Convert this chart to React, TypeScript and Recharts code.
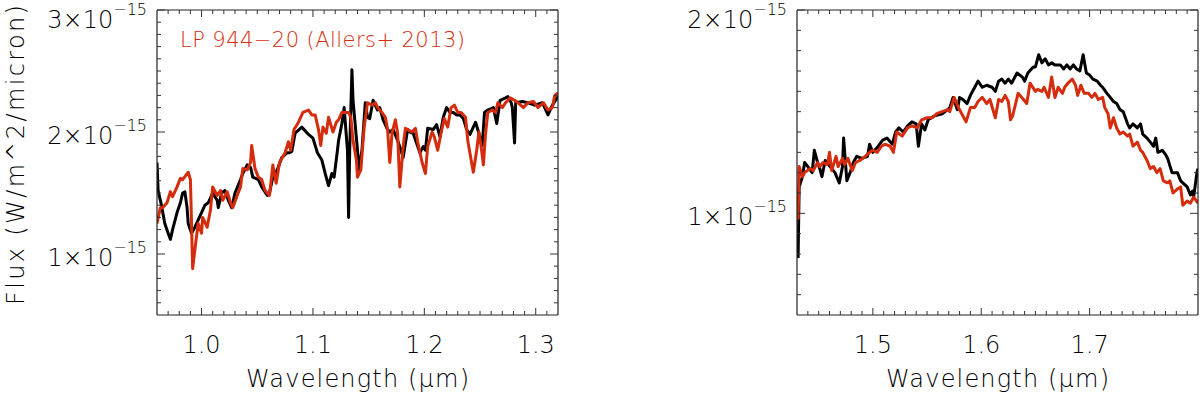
import { LineChart, Line, XAxis, YAxis } from 'recharts';

type Pt = [number, number];

// wavelength (micron), flux (units of 1e-15 W/m^2/micron)
const LEFT_BLACK: Pt[] = [
  [0.960, 1.75], [0.961, 1.52], [0.964, 1.40], [0.967, 1.25], [0.970, 1.17], [0.972, 1.12], [0.974, 1.20],
  [0.978, 1.34], [0.981, 1.42], [0.983, 1.50], [0.985, 1.51], [0.987, 1.38], [0.988, 1.25], [0.991, 1.17],
  [0.994, 1.22], [0.997, 1.28], [1.000, 1.34], [1.003, 1.40], [1.006, 1.42], [1.010, 1.50], [1.014, 1.44],
  [1.015, 1.38], [1.018, 1.50], [1.021, 1.52], [1.024, 1.44], [1.027, 1.38], [1.030, 1.50], [1.035, 1.61],
  [1.037, 1.66], [1.041, 1.73], [1.044, 1.71], [1.046, 1.63], [1.051, 1.61], [1.054, 1.55], [1.059, 1.48],
  [1.061, 1.50], [1.064, 1.63], [1.068, 1.69], [1.072, 1.79], [1.077, 1.83], [1.079, 1.83], [1.081, 1.84],
  [1.084, 1.99], [1.090, 2.04], [1.096, 1.98], [1.100, 1.95], [1.104, 1.83], [1.108, 1.77], [1.111, 1.66],
  [1.114, 1.56], [1.117, 1.66], [1.119, 1.63], [1.122, 1.85], [1.123, 1.93], [1.126, 2.07], [1.128, 2.20],
  [1.131, 1.85], [1.132, 1.30], [1.133, 1.85], [1.135, 2.51], [1.136, 2.26], [1.140, 1.85], [1.141, 1.69],
  [1.144, 1.85], [1.147, 2.24], [1.149, 2.12], [1.151, 2.11], [1.154, 2.26], [1.158, 2.18], [1.160, 2.20],
  [1.163, 2.10], [1.167, 2.02], [1.169, 2.00], [1.172, 2.02], [1.176, 1.93], [1.178, 1.88], [1.181, 1.79],
  [1.185, 2.02], [1.187, 2.00], [1.190, 1.99], [1.193, 1.91], [1.196, 1.83], [1.199, 1.88], [1.201, 1.85],
  [1.203, 2.03], [1.208, 2.02], [1.211, 2.06], [1.214, 1.96], [1.217, 2.12], [1.220, 2.20], [1.223, 2.16],
  [1.226, 2.16], [1.229, 2.14], [1.232, 2.14], [1.235, 2.11], [1.238, 2.02], [1.241, 1.98], [1.246, 2.08],
  [1.248, 2.02], [1.252, 1.89], [1.254, 2.16], [1.257, 2.18], [1.262, 2.20], [1.265, 2.07], [1.268, 2.26],
  [1.273, 2.28], [1.275, 2.29], [1.278, 2.24], [1.279, 2.20], [1.281, 1.91], [1.282, 2.24], [1.288, 2.25],
  [1.293, 2.24], [1.299, 2.22], [1.306, 2.24], [1.311, 2.14], [1.315, 2.22], [1.320, 2.29],
];

const LEFT_RED: Pt[] = [
  [0.960, 1.25], [0.963, 1.38], [0.965, 1.38], [0.969, 1.42], [0.972, 1.51], [0.974, 1.47], [0.978, 1.55],
  [0.981, 1.62], [0.983, 1.61], [0.988, 1.67], [0.990, 1.61], [0.991, 1.25], [0.992, 0.88], [0.995, 1.11],
  [0.997, 1.25], [1.000, 1.17], [1.001, 1.30], [1.005, 1.22], [1.008, 1.36], [1.010, 1.55], [1.014, 1.48],
  [1.017, 1.52], [1.019, 1.44], [1.023, 1.51], [1.026, 1.42], [1.028, 1.38], [1.032, 1.48], [1.035, 1.55],
  [1.037, 1.70], [1.041, 1.69], [1.044, 1.75], [1.045, 1.89], [1.048, 1.70], [1.051, 1.63], [1.054, 1.61],
  [1.057, 1.52], [1.061, 1.48], [1.064, 1.73], [1.067, 1.58], [1.070, 1.75], [1.075, 1.83], [1.078, 1.92],
  [1.080, 1.85], [1.083, 2.02], [1.087, 2.08], [1.091, 2.16], [1.096, 2.18], [1.099, 2.14], [1.102, 2.14],
  [1.105, 2.02], [1.107, 1.89], [1.109, 2.04], [1.112, 1.99], [1.114, 2.12], [1.118, 2.00], [1.121, 2.08],
  [1.123, 2.10], [1.126, 2.16], [1.129, 2.16], [1.132, 2.16], [1.134, 2.12], [1.136, 1.93], [1.139, 1.77],
  [1.140, 1.63], [1.143, 1.69], [1.146, 2.04], [1.149, 2.24], [1.153, 2.22], [1.156, 2.24], [1.158, 2.20],
  [1.162, 2.16], [1.165, 2.12], [1.167, 2.02], [1.169, 1.75], [1.171, 1.99], [1.174, 2.10], [1.176, 1.99],
  [1.178, 1.55], [1.181, 1.88], [1.183, 2.03], [1.185, 2.02], [1.189, 2.00], [1.192, 2.03], [1.194, 1.92],
  [1.198, 1.75], [1.201, 1.66], [1.203, 1.88], [1.207, 2.00], [1.209, 1.96], [1.212, 1.85], [1.215, 1.99],
  [1.218, 2.11], [1.221, 2.04], [1.224, 2.20], [1.227, 2.22], [1.230, 2.16], [1.233, 2.16], [1.237, 2.12],
  [1.239, 1.93], [1.242, 1.77], [1.244, 1.67], [1.247, 1.85], [1.249, 2.00], [1.251, 1.88], [1.253, 1.73],
  [1.255, 1.99], [1.257, 2.16], [1.261, 2.18], [1.264, 2.16], [1.266, 2.24], [1.270, 2.20], [1.273, 2.24],
  [1.277, 2.28], [1.281, 2.26], [1.284, 2.24], [1.289, 2.20], [1.293, 2.24], [1.298, 2.25], [1.302, 2.20],
  [1.307, 2.24], [1.311, 2.18], [1.315, 2.20], [1.317, 2.30], [1.320, 2.32],
];

const RIGHT_BLACK: Pt[] = [
  [1.431, 0.78], [1.432, 1.13], [1.435, 1.18], [1.437, 1.25], [1.440, 1.23], [1.444, 1.20], [1.446, 1.31],
  [1.449, 1.25], [1.451, 1.22], [1.453, 1.18], [1.456, 1.26], [1.459, 1.24], [1.462, 1.22], [1.465, 1.20],
  [1.469, 1.15], [1.472, 1.23], [1.473, 1.37], [1.476, 1.16], [1.479, 1.20], [1.482, 1.25], [1.485, 1.28],
  [1.490, 1.27], [1.495, 1.28], [1.497, 1.34], [1.500, 1.30], [1.505, 1.33], [1.509, 1.36], [1.513, 1.37],
  [1.518, 1.34], [1.521, 1.40], [1.524, 1.42], [1.528, 1.40], [1.532, 1.43], [1.536, 1.45], [1.540, 1.44],
  [1.542, 1.33], [1.545, 1.44], [1.548, 1.41], [1.551, 1.46], [1.557, 1.48], [1.564, 1.49], [1.569, 1.51],
  [1.571, 1.52], [1.574, 1.57], [1.578, 1.51], [1.580, 1.57], [1.583, 1.56], [1.587, 1.54], [1.590, 1.58],
  [1.594, 1.62], [1.597, 1.65], [1.601, 1.62], [1.605, 1.63], [1.610, 1.62], [1.613, 1.60], [1.616, 1.65],
  [1.619, 1.66], [1.622, 1.64], [1.625, 1.66], [1.628, 1.64], [1.633, 1.69], [1.638, 1.67], [1.640, 1.65],
  [1.643, 1.69], [1.648, 1.72], [1.650, 1.72], [1.653, 1.78], [1.656, 1.74], [1.659, 1.76], [1.662, 1.73],
  [1.665, 1.74], [1.668, 1.73], [1.673, 1.73], [1.676, 1.71], [1.679, 1.73], [1.682, 1.71], [1.685, 1.73],
  [1.688, 1.71], [1.691, 1.70], [1.694, 1.78], [1.697, 1.69], [1.700, 1.68], [1.703, 1.66], [1.707, 1.65],
  [1.710, 1.63], [1.712, 1.62], [1.716, 1.59], [1.719, 1.57], [1.722, 1.55], [1.725, 1.54], [1.728, 1.51],
  [1.731, 1.50], [1.735, 1.44], [1.737, 1.42], [1.740, 1.44], [1.744, 1.42], [1.747, 1.44], [1.749, 1.39],
  [1.753, 1.37], [1.756, 1.35], [1.759, 1.33], [1.761, 1.37], [1.763, 1.30], [1.767, 1.31], [1.770, 1.29],
  [1.772, 1.27], [1.776, 1.20], [1.781, 1.20], [1.784, 1.16], [1.786, 1.15], [1.790, 1.13], [1.793, 1.09],
  [1.795, 1.11], [1.796, 1.08], [1.799, 1.20], [1.800, 1.22],
];

const RIGHT_RED: Pt[] = [
  [1.431, 0.97], [1.432, 1.23], [1.435, 1.18], [1.437, 1.20], [1.442, 1.22], [1.445, 1.21], [1.449, 1.25],
  [1.451, 1.23], [1.454, 1.25], [1.458, 1.24], [1.460, 1.30], [1.462, 1.21], [1.466, 1.28], [1.468, 1.23],
  [1.472, 1.27], [1.474, 1.24], [1.477, 1.27], [1.481, 1.21], [1.484, 1.25], [1.488, 1.26], [1.493, 1.28],
  [1.497, 1.30], [1.500, 1.31], [1.504, 1.30], [1.508, 1.33], [1.511, 1.34], [1.516, 1.33], [1.519, 1.30],
  [1.522, 1.40], [1.527, 1.38], [1.532, 1.42], [1.536, 1.43], [1.541, 1.42], [1.545, 1.46], [1.550, 1.47],
  [1.555, 1.47], [1.559, 1.49], [1.564, 1.50], [1.569, 1.51], [1.571, 1.50], [1.575, 1.57], [1.579, 1.52],
  [1.582, 1.49], [1.586, 1.45], [1.590, 1.52], [1.594, 1.52], [1.597, 1.55], [1.601, 1.57], [1.605, 1.54],
  [1.608, 1.56], [1.613, 1.47], [1.616, 1.56], [1.619, 1.55], [1.622, 1.58], [1.625, 1.55], [1.627, 1.46],
  [1.629, 1.48], [1.634, 1.59], [1.639, 1.56], [1.642, 1.54], [1.645, 1.64], [1.650, 1.60], [1.652, 1.61],
  [1.656, 1.60], [1.658, 1.62], [1.662, 1.57], [1.665, 1.67], [1.668, 1.57], [1.671, 1.62], [1.675, 1.59],
  [1.677, 1.62], [1.680, 1.64], [1.684, 1.66], [1.687, 1.63], [1.689, 1.58], [1.692, 1.63], [1.695, 1.59],
  [1.699, 1.59], [1.702, 1.57], [1.705, 1.59], [1.708, 1.56], [1.712, 1.57], [1.714, 1.52], [1.717, 1.49],
  [1.719, 1.42], [1.722, 1.47], [1.725, 1.42], [1.728, 1.39], [1.731, 1.40], [1.735, 1.38], [1.737, 1.39],
  [1.740, 1.33], [1.744, 1.35], [1.747, 1.31], [1.749, 1.30], [1.753, 1.26], [1.756, 1.22], [1.759, 1.23],
  [1.762, 1.20], [1.765, 1.22], [1.768, 1.16], [1.772, 1.15], [1.774, 1.16], [1.777, 1.10], [1.781, 1.12],
  [1.784, 1.13], [1.786, 1.04], [1.790, 1.06], [1.793, 1.05], [1.796, 1.08], [1.800, 1.05],
];

const LEFT_X_DOMAIN: Pt = [0.96, 1.32];
const RIGHT_X_DOMAIN: Pt = [1.43, 1.8];
const LEFT_Y_DOMAIN: Pt = [0.5, 3];
const RIGHT_Y_DOMAIN: Pt = [0.5, 2];

const LEFT_X_MAJOR = [1.0, 1.1, 1.2, 1.3];
const RIGHT_X_MAJOR = [1.5, 1.6, 1.7];
const LEFT_Y_MAJOR = [1, 2, 3];
const RIGHT_Y_MAJOR = [1, 2];

const LEGEND_TEXT = 'LP 944\u221220 (Allers+ 2013)';
const X_TITLE = 'Wavelength (\u03bcm)';
const Y_TITLE = 'Flux (W/m^2/micron)';

const FONT = "'DejaVu Sans', Verdana, sans-serif";
const RED = '#d42c0c';
const INK = '#000';

// minor tick positions
function range(lo: number, hi: number, step: number) {
  const n = Math.round((hi - lo) / step);
  return Array.from({ length: n + 1 }, (_, i) => +(lo + i * step).toFixed(4));
}

const toRows = (pts: Pt[]) => pts.map(([w, f]) => ({ w, f }));
const isMajor = (v: number, majors: number[]) => majors.some(m => Math.abs(m - v) < 1e-6);

function makeXTick(majors: number[], side: 'bottom' | 'top') {
  return (props: any) => {
    const { x, y, payload } = props;
    const v = payload.value as number;
    const major = isMajor(v, majors);
    const len = major ? 7 : 4;
    const dir = side === 'bottom' ? -1 : 1;
    return (
      <g>
        <line x1={x} x2={x} y1={y} y2={y + dir * len} stroke="#333" strokeWidth={1} />
        {major && side === 'bottom' && (
          <text x={x} y={y + 38} textAnchor="middle" fontSize={24} fontFamily={FONT} fontWeight={300} fill={INK}>
            {v.toFixed(1)}
          </text>
        )}
      </g>
    );
  };
}

function makeYTick(majors: number[], top: number, side: 'left' | 'right') {
  return (props: any) => {
    const { x, y, payload } = props;
    const v = payload.value as number;
    const major = isMajor(v, majors);
    const len = major ? 8 : 4;
    const dir = side === 'left' ? 1 : -1;
    const base = Math.abs(v - top) < 1e-6 ? y + 18 : y + 12;
    return (
      <g>
        <line x1={x} x2={x + dir * len} y1={y} y2={y} stroke="#333" strokeWidth={1} />
        {major && side === 'left' && (
          <text x={x - 10} y={base} textAnchor="end" fontSize={24} fontFamily={FONT} fontWeight={300} fill={INK}>
            {`${Math.round(v)}\u00d710`}
            <tspan dy={-13} fontSize={16}>{'\u221215'}</tspan>
          </text>
        )}
      </g>
    );
  };
}

const XTitle = (props: any) => {
  const vb = props.viewBox || { x: 0, y: 0, width: 0 };
  return (
    <text
      x={vb.x + vb.width / 2}
      y={vb.y + 72}
      textAnchor="middle"
      fontSize={24}
      fontFamily={FONT}
      fontWeight={300}
      fill={INK}
      textLength={223}
      lengthAdjust="spacing"
    >
      {X_TITLE}
    </text>
  );
};

const YTitle = () => (
  <text
    x={24}
    y={155}
    transform="rotate(-90, 24, 155)"
    textAnchor="middle"
    fontSize={24}
    fontFamily={FONT}
    fontWeight={300}
    fill={INK}
    textLength={300}
    lengthAdjust="spacing"
  >
    {Y_TITLE}
  </text>
);

const LegendText = () => (
  <text
    x={180}
    y={47}
    fontSize={21}
    fontFamily={FONT}
    fontWeight={300}
    fill={RED}
    textLength={285}
    lengthAdjust="spacing"
  >
    {LEGEND_TEXT}
  </text>
);

interface PanelProps {
  black: Pt[];
  red: Pt[];
  xDomain: Pt;
  yDomain: Pt;
  xMajor: number[];
  yMajor: number[];
  xMinor: number[];
  yMinor: number[];
  margin: { top: number; right: number; bottom: number; left: number };
  left: number;
  withLegend?: boolean;
  withYTitle?: boolean;
}

function Panel(p: PanelProps) {
  const xTicks = Array.from(new Set([...p.xMinor, ...p.xMajor])).sort((a, b) => a - b);
  const yTicks = Array.from(new Set([...p.yMinor, ...p.yMajor])).sort((a, b) => a - b);
  const axisLine = { stroke: '#222', strokeWidth: 1.2 };
  return (
    <div style={{ position: 'absolute', left: p.left, top: 0 }}>
      <LineChart width={600} height={397} margin={p.margin}>
        <XAxis
          type="number"
          dataKey="w"
          domain={p.xDomain}
          allowDataOverflow
          ticks={xTicks}
          interval={0}
          height={1}
          tickSize={0}
          tickMargin={0}
          tickLine={false}
          axisLine={axisLine}
          tick={makeXTick(p.xMajor, 'bottom')}
          label={<XTitle />}
        />
        <XAxis
          xAxisId="top"
          orientation="top"
          type="number"
          dataKey="w"
          domain={p.xDomain}
          allowDataOverflow
          ticks={xTicks}
          interval={0}
          height={1}
          tickSize={0}
          tickMargin={0}
          tickLine={false}
          axisLine={axisLine}
          tick={makeXTick(p.xMajor, 'top')}
          label={p.withLegend ? <LegendText /> : undefined}
        />
        <YAxis
          type="number"
          domain={p.yDomain}
          allowDataOverflow
          ticks={yTicks}
          interval={0}
          width={1}
          tickSize={0}
          tickMargin={0}
          tickLine={false}
          axisLine={axisLine}
          tick={makeYTick(p.yMajor, p.yDomain[1], 'left')}
          label={p.withYTitle ? <YTitle /> : undefined}
        />
        <YAxis
          yAxisId="right"
          orientation="right"
          type="number"
          domain={p.yDomain}
          allowDataOverflow
          ticks={yTicks}
          interval={0}
          width={1}
          tickSize={0}
          tickMargin={0}
          tickLine={false}
          axisLine={axisLine}
          tick={makeYTick(p.yMajor, p.yDomain[1], 'right')}
        />
        <Line
          data={toRows(p.black)}
          dataKey="f"
          type="linear"
          stroke="#000"
          strokeWidth={3}
          strokeLinejoin="round"
          dot={false}
          isAnimationActive={false}
        />
        <Line
          data={toRows(p.red)}
          dataKey="f"
          type="linear"
          stroke={RED}
          strokeWidth={3}
          strokeLinejoin="round"
          dot={false}
          isAnimationActive={false}
        />
      </LineChart>
    </div>
  );
}

export default function App() {
  return (
    <div style={{ position: 'absolute', left: 0, top: 0, width: 1200, height: 397, background: '#fff' }}>
      <Panel
        black={LEFT_BLACK}
        red={LEFT_RED}
        xDomain={LEFT_X_DOMAIN}
        yDomain={LEFT_Y_DOMAIN}
        xMajor={LEFT_X_MAJOR}
        yMajor={LEFT_Y_MAJOR}
        xMinor={range(0.97, 1.31, 0.01)}
        yMinor={range(0.6, 2.9, 0.1)}
        margin={{ top: 9, right: 41, bottom: 81, left: 156 }}
        left={0}
        withLegend
        withYTitle
      />
      <Panel
        black={RIGHT_BLACK}
        red={RIGHT_RED}
        xDomain={RIGHT_X_DOMAIN}
        yDomain={RIGHT_Y_DOMAIN}
        xMajor={RIGHT_X_MAJOR}
        yMajor={RIGHT_Y_MAJOR}
        xMinor={range(1.44, 1.79, 0.01)}
        yMinor={range(0.6, 1.9, 0.1)}
        margin={{ top: 9, right: 1, bottom: 81, left: 196 }}
        left={600}
      />
    </div>
  );
}
